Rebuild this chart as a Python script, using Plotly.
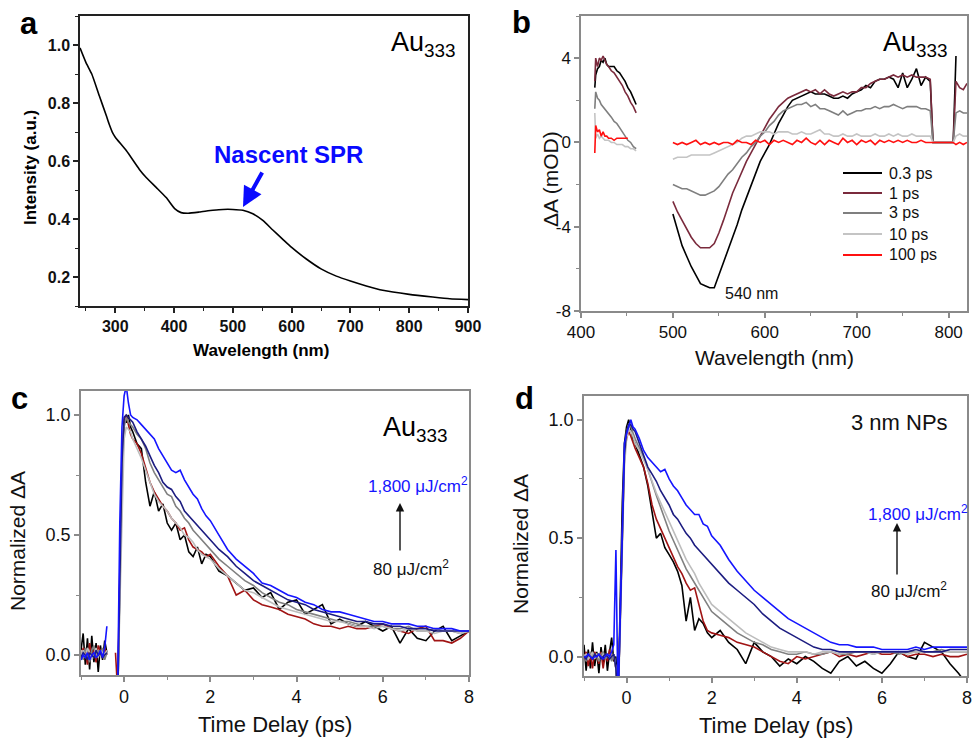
import plotly.graph_objects as go

W, H = 972, 738
FONT = "Liberation Sans, Arial, sans-serif"

# ---------------- panel a : absorption spectrum ----------------
A_WL = [240, 250, 260, 273, 285, 290, 296, 300, 319, 341, 353, 370, 387, 401, 412, 424,
        443, 466, 483, 500, 517, 534, 551, 568, 585, 600, 625, 650, 676, 700, 727,
        755, 800, 840, 869, 900]
A_INT = [0.99, 0.94, 0.90, 0.824, 0.755, 0.725, 0.695, 0.682, 0.635, 0.571, 0.542, 0.508, 0.473,
         0.436, 0.422, 0.42, 0.424, 0.43, 0.433, 0.433, 0.43, 0.418, 0.395, 0.362,
         0.33, 0.302, 0.262, 0.228, 0.203, 0.186, 0.169, 0.154, 0.14, 0.131, 0.125, 0.122]

# ---------------- panel b : transient spectra ----------------
B_WL_S1 = [415, 416, 418, 420, 422, 424, 426, 428, 430, 433, 436, 439, 442, 445, 448,
           451, 454, 457, 460]
B_WL_S2 = [500, 505, 510, 515, 520, 525, 530, 535, 540, 545, 550, 555, 560, 565, 570,
           575, 580, 585, 590, 595, 600, 605, 610, 615, 620, 625, 630, 635, 640, 645,
           650, 655, 660, 665, 670, 675, 680, 685, 690, 695, 700, 705, 710, 715, 720,
           725, 730, 735, 740, 745, 750, 755, 760, 765, 770, 775, 780,
           783, 790, 800, 805, 808, 812, 816, 820]
B_NAMES = ["0.3 ps", "1 ps", "3 ps", "10 ps", "100 ps"]

B_03_S1 = [2.6, 3.2, 3.5, 3.6, 3.9, 3.8, 4.0, 3.7, 3.6, 3.6, 3.6, 3.4, 3.3, 3.1, 2.9, 2.6, 2.4, 2.1, 1.8]
B_03_S2 = [-3.4, -4.1, -4.9, -5.4, -5.9, -6.3, -6.7, -6.8, -6.9, -6.9, -6.3, -5.8, -5.2, -4.5, -3.9,
           -3.2, -2.6, -2.0, -1.4, -0.9, -0.5, -0.1, 0.4, 0.9, 1.3, 1.7, 2.0, 2.1, 2.2, 2.3,
           2.4, 2.3, 2.3, 2.3, 2.2, 2.1, 2.1, 2.2, 2.1, 2.3, 2.4, 2.5, 2.7, 2.6, 2.9,
           3.0, 3.0, 3.1, 3.0, 2.6, 3.3, 2.6, 3.0, 3.5, 2.7, 3.1, 2.9,
           0.0, 0.0, 0.0, 0.0, 4.1, None, None, None]
B_1_S1 = [2.9, 4.0, 3.6, 4.0, 3.9, 4.1, 3.9, 3.7, 3.6, 3.4, 3.3, 3.1, 2.9, 2.7, 2.4, 2.2, 1.9, 1.7, 1.4]
B_1_S2 = [-2.8, -3.3, -3.7, -4.1, -4.5, -4.8, -5.0, -5.0, -5.0, -4.8, -4.3, -3.7, -3.0, -2.4, -1.9,
          -1.4, -0.9, -0.5, -0.1, 0.3, 0.7, 1.1, 1.4, 1.7, 1.9, 2.1, 2.2, 2.3, 2.4, 2.5,
          2.4, 2.5, 2.3, 2.5, 2.3, 2.2, 2.3, 2.4, 2.3, 2.4, 2.4, 2.6, 2.6, 2.8, 2.9,
          3.0, 3.0, 3.1, 3.2, 3.1, 3.2, 3.1, 3.2, 3.1, 3.1, 3.1, 3.0,
          0.0, 0.0, 0.0, 0.0, 2.9, 2.6, 2.5, 2.8]
B_3_S1 = [1.6, 2.4, 2.1, 2.0, 1.8, 1.7, 1.6, 1.5, 1.4, 1.2, 1.0, 0.9, 0.7, 0.5, 0.3, 0.1, 0.0, -0.2, -0.3]
B_3_S2 = [-2.0, -2.1, -2.2, -2.2, -2.3, -2.4, -2.5, -2.5, -2.4, -2.3, -2.1, -1.8, -1.5, -1.3, -1.0,
          -0.7, -0.5, -0.2, 0.0, 0.3, 0.5, 0.8, 1.0, 1.3, 1.5, 1.6, 1.7, 1.8, 1.8, 1.9,
          1.7, 1.8, 1.6, 1.6, 1.5, 1.4, 1.3, 1.5, 1.3, 1.4, 1.5, 1.5, 1.6, 1.6, 1.7,
          1.6, 1.7, 1.7, 1.8, 1.7, 1.6, 1.7, 1.7, 1.7, 1.6, 1.6, 1.5,
          0.0, 0.0, 0.0, 0.0, 1.4, 1.5, 1.4, 1.4]
B_10_S1 = [1.4, 0.2, 0.4, 0.2, 0.3, 0.2, 0.1, 0.1, 0.1, 0.0, 0.0, -0.1, -0.1, -0.1, -0.2, -0.2, -0.3, -0.3, -0.4]
B_10_S2 = [-0.8, -0.7, -0.7, -0.7, -0.6, -0.6, -0.6, -0.6, -0.6, -0.5, -0.4, -0.3, -0.2, -0.1, 0.0,
           0.2, 0.3, 0.3, 0.4, 0.5, 0.5, 0.5, 0.4, 0.5, 0.5, 0.5, 0.4, 0.4, 0.5, 0.4,
           0.4, 0.5, 0.6, 0.4, 0.4, 0.3, 0.3, 0.4, 0.3, 0.3, 0.4, 0.3, 0.3, 0.3, 0.4,
           0.3, 0.3, 0.4, 0.3, 0.4, 0.3, 0.3, 0.4, 0.3, 0.3, 0.3, 0.3,
           0.0, 0.0, 0.0, 0.0, 0.3, 0.4, 0.3, 0.3]
B_100_S1 = [-0.5, 0.8, 0.5, 0.6, 0.3, 0.5, 0.3, 0.3, 0.2, 0.2, 0.1, 0.2, 0.2, 0.2, 0.2, 0.2, None, None, None]
B_100_S2 = [0.0, -0.1, 0.0, -0.1, 0.0, 0.1, -0.1, 0.0, -0.1, 0.0, -0.1, 0.0, 0.0, -0.1, 0.1,
            0.0, 0.0, -0.1, 0.1, 0.0, 0.1, -0.1, 0.1, 0.0, 0.1, 0.0, -0.1, 0.1, 0.0, 0.2,
            0.0, -0.1, 0.1, -0.1, 0.1, 0.0, -0.1, 0.2, 0.0, 0.1, -0.1, 0.1, 0.0, 0.1, -0.1,
            0.1, 0.0, 0.1, 0.0, 0.1, 0.0, 0.1, 0.0, 0.0, 0.1, 0.0, 0.0,
            0.0, 0.0, 0.0, 0.0, -0.1, 0.0, -0.1, 0.0]

# ---------------- panel c : Au333 kinetics ----------------
C_T_PRE = [-1.0, -0.95, -0.9, -0.85, -0.8, -0.75, -0.7, -0.65, -0.6, -0.55, -0.5, -0.45, -0.4]
C_T_MAIN = [-0.2, -0.15, -0.1, -0.05, 0.0, 0.05, 0.1, 0.15,
            0.2, 0.3, 0.4, 0.5, 0.6, 0.7, 0.8, 0.9, 1.0, 1.1, 1.2, 1.3, 1.4, 1.5, 1.6, 1.7, 1.8, 1.9, 2.0,
            2.2, 2.4, 2.6, 2.8, 3.0, 3.2, 3.4, 3.6, 3.8, 4.0, 4.2, 4.4, 4.6, 4.8, 5.0,
            5.2, 5.4, 5.6, 5.8, 6.0, 6.2, 6.4, 6.6, 6.8, 7.0, 7.2, 7.4, 7.6, 7.8, 8.0]

C_BLACK_PRE = [0.02, 0.09, -0.04, 0.07, -0.06, 0.08, -0.03, 0.05, -0.07, 0.04, -0.02, 0.06, 0.01]
C_BLACK = [-0.2, -0.2, 0.3, 0.75, 0.97, 0.97, 1.0, 0.95,
           0.93, 0.88, 0.86, 0.72, 0.62, 0.68, 0.6, 0.63, 0.55, 0.52, 0.55, 0.48, 0.5, 0.43, 0.41, 0.45, 0.38, 0.42, 0.41,
           0.35, 0.33, 0.3, 0.27, 0.28, 0.24, 0.26, 0.19, 0.22, 0.23, 0.17, 0.19, 0.21, 0.13, 0.15,
           0.13, 0.12, 0.14, 0.12, 0.1, 0.12, 0.05, 0.11, 0.07, 0.06, 0.1, 0.12, 0.06, 0.08, 0.1]
C_RED_PRE = [-0.02, 0.03, 0.01, -0.04, 0.05, 0.0, 0.02, -0.03, 0.04, 0.01, -0.01, 0.03, 0.0]
C_RED = [0.01, -0.15, 0.35, 0.8, 0.98, 1.0, 0.96, 0.92,
         0.9, 0.88, 0.84, 0.78, 0.72, 0.68, 0.65, 0.62, 0.6, 0.57, 0.55, 0.52, 0.53, 0.48, 0.45, 0.44, 0.43, 0.41, 0.42,
         0.37, 0.33, 0.25, 0.27, 0.23, 0.21, 0.2, 0.19, 0.17, 0.16, 0.15, 0.13, 0.12, 0.12, 0.11,
         0.12, 0.11, 0.11, 0.12, 0.13, 0.11, 0.1, 0.09, 0.11, 0.12, 0.06, 0.06, 0.05, 0.07, 0.1]
C_GRAY_PRE = [0.01, -0.02, 0.03, 0.0, -0.03, 0.02, 0.04, -0.01, 0.02, 0.0, 0.03, -0.02, 0.01]
C_GRAY = [-0.2, -0.2, 0.25, 0.7, 0.95, 0.99, 0.97, 0.96,
          0.95, 0.92, 0.9, 0.86, 0.8, 0.76, 0.73, 0.7, 0.67, 0.66, 0.62, 0.6, 0.57, 0.55, 0.52, 0.5, 0.48, 0.46, 0.44,
          0.4, 0.37, 0.34, 0.31, 0.29, 0.26, 0.24, 0.22, 0.21, 0.19, 0.18, 0.17, 0.16, 0.15, 0.14,
          0.14, 0.13, 0.12, 0.12, 0.12, 0.11, 0.11, 0.12, 0.1, 0.1, 0.11, 0.1, 0.1, 0.09, 0.1]
C_LGRAY_PRE = [0.0, 0.02, -0.01, 0.03, 0.01, -0.02, 0.0, 0.03, -0.01, 0.02, 0.01, 0.0, 0.02]
C_LGRAY = [-0.2, -0.2, 0.2, 0.6, 0.9, 0.95, 0.94, 0.93,
           0.9, 0.86, 0.82, 0.77, 0.72, 0.67, 0.64, 0.62, 0.6, 0.57, 0.55, 0.53, 0.5, 0.49, 0.47, 0.44, 0.42, 0.41, 0.4,
           0.36, 0.33, 0.3, 0.27, 0.26, 0.24, 0.22, 0.2, 0.19, 0.18, 0.17, 0.16, 0.15, 0.14, 0.14,
           0.13, 0.12, 0.12, 0.11, 0.12, 0.11, 0.1, 0.11, 0.1, 0.1, 0.09, 0.1, 0.1, 0.09, 0.1]
C_NAVY_PRE = [-0.01, 0.01, 0.0, -0.02, 0.01, 0.0, -0.01, 0.02, 0.0, 0.01, -0.01, 0.0, 0.01]
C_NAVY = [-0.2, -0.2, 0.3, 0.8, 0.99, 1.0, 0.99, 0.98,
          0.97, 0.93, 0.9, 0.87, 0.83, 0.79, 0.76, 0.72, 0.7, 0.69, 0.66, 0.64, 0.6, 0.58, 0.56, 0.54, 0.52, 0.5, 0.48,
          0.44, 0.41, 0.37, 0.34, 0.31, 0.29, 0.27, 0.25, 0.23, 0.22, 0.21, 0.19, 0.18, 0.17, 0.16,
          0.15, 0.14, 0.14, 0.13, 0.13, 0.12, 0.12, 0.11, 0.11, 0.11, 0.1, 0.1, 0.1, 0.1, 0.1]
C_BLUE_PRE = [-0.02, 0.0, -0.01, 0.01, -0.02, 0.0, 0.01, -0.01, 0.0, 0.02, -0.01, 0.03, 0.12]
C_BLUE = [-0.3, -0.15, 0.55, 0.95, 1.08, 1.12, 1.05, 1.0,
          0.99, 0.98, 0.96, 0.94, 0.92, 0.9, 0.86, 0.83, 0.8, 0.77, 0.76, 0.77, 0.73, 0.7, 0.67, 0.65, 0.61, 0.58, 0.56,
          0.5, 0.44, 0.4, 0.37, 0.34, 0.3, 0.29, 0.27, 0.25, 0.24, 0.22, 0.21, 0.19, 0.18, 0.18,
          0.17, 0.16, 0.15, 0.14, 0.14, 0.13, 0.13, 0.13, 0.12, 0.12, 0.11, 0.11, 0.11, 0.1, 0.1]

# ---------------- panel d : 3 nm NP kinetics ----------------
D_T = [-1.0, -0.95, -0.9, -0.85, -0.8, -0.75, -0.7, -0.65, -0.6, -0.55, -0.5, -0.45, -0.4, -0.35, -0.3,
       -0.25, -0.2, -0.15, -0.1, -0.05, 0.0, 0.05, 0.1, 0.15,
       0.2, 0.3, 0.4, 0.5, 0.6, 0.7, 0.8, 0.9, 1.0, 1.1, 1.2, 1.3, 1.4, 1.5, 1.6, 1.7, 1.8, 1.9, 2.0,
       2.2, 2.4, 2.6, 2.8, 3.0, 3.2, 3.4, 3.6, 3.8, 4.0, 4.2, 4.4, 4.6, 4.8, 5.0,
       5.2, 5.4, 5.6, 5.8, 6.0, 6.2, 6.4, 6.6, 6.8, 7.0, 7.2, 7.4, 7.6, 7.8, 8.0]
D_BLACK = [0.05, -0.06, 0.03, -0.05, 0.06, -0.04, 0.02, -0.07, 0.04, -0.03, 0.05, -0.06, 0.02, 0.08, -0.02,
           0.0, -0.2, 0.2, 0.65, 0.9, 0.97, 1.0, 0.96, 0.92,
           0.9, 0.85, 0.8, 0.72, 0.6, 0.5, 0.52, 0.46, 0.43, 0.4, 0.36, 0.3, 0.15, 0.25, 0.11, 0.16, 0.14, 0.1, 0.08,
           0.11, 0.06, 0.03, -0.03, 0.06, 0.02, 0.0, -0.04, -0.01, -0.03, 0.0, -0.02, -0.05, -0.07, -0.02,
           0.0, -0.04, -0.02, -0.05, -0.07, -0.03, 0.02, 0.0, -0.01, 0.06, 0.04, 0.02, -0.03, -0.07, -0.12]
D_RED = [-0.01, 0.02, -0.04, 0.01, -0.05, 0.02, 0.0, -0.03, 0.02, -0.05, 0.01, -0.02, 0.03, -0.01, 0.0,
         -0.05, -0.2, 0.15, 0.6, 0.85, 0.92, 0.95, 0.93, 0.9,
         0.88, 0.84, 0.8, 0.73, 0.64, 0.58, 0.54, 0.5, 0.46, 0.42, 0.38, 0.35, 0.31, 0.28, 0.29, 0.22, 0.15, 0.11, 0.1,
         0.09, 0.08, 0.06, 0.05, 0.04, 0.02, 0.0, -0.02, -0.03, 0.0, -0.01, 0.0, 0.01, 0.02, 0.0,
         0.01, 0.0, 0.01, 0.02, 0.01, 0.01, 0.02, 0.0, 0.01, 0.01, 0.0, 0.01, 0.0, 0.0, 0.01]
D_GRAY = [0.01, -0.02, 0.0, 0.02, -0.01, 0.01, 0.0, -0.02, 0.01, 0.02, -0.01, 0.0, 0.01, -0.02, 0.01,
          -0.05, -0.2, 0.15, 0.55, 0.85, 0.95, 0.98, 0.97, 0.94,
          0.92, 0.88, 0.84, 0.79, 0.73, 0.68, 0.63, 0.58, 0.53, 0.49, 0.45, 0.41, 0.37, 0.34, 0.31, 0.28, 0.25, 0.22, 0.19,
          0.16, 0.13, 0.1, 0.08, 0.06, 0.05, 0.03, 0.02, 0.01, 0.01, 0.02, 0.01, 0.01, 0.02, 0.01,
          0.01, 0.02, 0.02, 0.01, 0.02, 0.02, 0.01, 0.02, 0.02, 0.02, 0.02, 0.03, 0.02, 0.02, 0.02]
D_LGRAY = [0.0, 0.01, -0.01, 0.0, 0.02, -0.01, 0.01, 0.0, -0.01, 0.01, 0.0, 0.01, -0.01, 0.0, 0.01,
           -0.05, -0.2, 0.1, 0.5, 0.8, 0.92, 0.96, 0.95, 0.93,
           0.9, 0.87, 0.83, 0.79, 0.74, 0.69, 0.65, 0.61, 0.57, 0.53, 0.49, 0.45, 0.41, 0.38, 0.35, 0.31, 0.28, 0.25, 0.22,
           0.19, 0.16, 0.13, 0.1, 0.08, 0.06, 0.04, 0.03, 0.02, 0.02, 0.02, 0.01, 0.02, 0.02, 0.01,
           0.02, 0.02, 0.02, 0.01, 0.02, 0.02, 0.02, 0.01, 0.02, 0.02, 0.02, 0.02, 0.02, 0.02, 0.02]
D_NAVY = [0.0, -0.01, 0.01, 0.0, -0.01, 0.01, 0.0, 0.01, -0.01, 0.0, 0.01, 0.0, -0.01, 0.0, 0.01,
          -0.05, -0.2, 0.15, 0.55, 0.85, 0.95, 0.98, 0.98, 0.96,
          0.95, 0.9, 0.85, 0.8, 0.77, 0.74, 0.7, 0.67, 0.64, 0.6, 0.58, 0.55, 0.52, 0.5, 0.47, 0.45, 0.43, 0.41, 0.39,
          0.35, 0.31, 0.28, 0.25, 0.22, 0.18, 0.15, 0.12, 0.1, 0.08, 0.06, 0.04, 0.03, 0.03, 0.02,
          0.02, 0.02, 0.02, 0.02, 0.02, 0.02, 0.02, 0.02, 0.03, 0.02, 0.02, 0.02, 0.03, 0.03, 0.03]
D_BLUE = [0.0, 0.0, 0.01, 0.0, -0.01, 0.0, 0.0, 0.01, 0.0, -0.01, 0.0, 0.01, 0.0, 0.02, 0.05,
          0.45, -0.2, 0.15, 0.6, 0.9, 0.94, 0.97, 1.0, 0.97,
          0.96, 0.92, 0.87, 0.84, 0.82, 0.8, 0.78, 0.79, 0.75, 0.72, 0.7, 0.67, 0.64, 0.62, 0.6, 0.6, 0.56, 0.55, 0.51,
          0.47, 0.41, 0.36, 0.32, 0.28, 0.25, 0.22, 0.19, 0.16, 0.14, 0.12, 0.1, 0.08, 0.06, 0.05,
          0.05, 0.04, 0.04, 0.04, 0.03, 0.03, 0.03, 0.03, 0.04, 0.03, 0.04, 0.04, 0.04, 0.04, 0.04]

B_COLORS = ["#000000", "#7a2a3c", "#7f7f7f", "#c4c4c4", "#ff1010"]
K_COLORS = ["#000000", "#a01414", "#808080", "#bdbdbd", "#1c1c80", "#1515ff"]

# ---------------- figure ----------------
fig = go.Figure()

fig.add_trace(go.Scatter(x=A_WL, y=A_INT, mode="lines",
                         line=dict(color="black", width=1.6, shape="spline", smoothing=0.5),
                         xaxis="x", yaxis="y", showlegend=False))

b_s1 = [B_03_S1, B_1_S1, B_3_S1, B_10_S1, B_100_S1]
b_s2 = [B_03_S2, B_1_S2, B_3_S2, B_10_S2, B_100_S2]
for name, s1, s2, col in zip(B_NAMES, b_s1, b_s2, B_COLORS):
    fig.add_trace(go.Scatter(x=B_WL_S1 + [None] + B_WL_S2, y=s1 + [None] + s2, mode="lines",
                             name=name, line=dict(color=col, width=1.6), connectgaps=False,
                             xaxis="x2", yaxis="y2", showlegend=False))

c_pre = [C_BLACK_PRE, C_RED_PRE, C_GRAY_PRE, C_LGRAY_PRE, C_NAVY_PRE, C_BLUE_PRE]
c_main = [C_BLACK, C_RED, C_GRAY, C_LGRAY, C_NAVY, C_BLUE]
for pre, main, col in zip(c_pre, c_main, K_COLORS):
    fig.add_trace(go.Scatter(x=C_T_PRE + [None] + C_T_MAIN, y=pre + [None] + main, mode="lines",
                             line=dict(color=col, width=1.6), connectgaps=False,
                             xaxis="x3", yaxis="y3", showlegend=False))

for ser, col in zip([D_BLACK, D_RED, D_GRAY, D_LGRAY, D_NAVY, D_BLUE], K_COLORS):
    fig.add_trace(go.Scatter(x=D_T, y=ser, mode="lines", line=dict(color=col, width=1.6),
                             xaxis="x4", yaxis="y4", showlegend=False))


def px(x):
    return x / W


def py(y):
    return 1 - y / H


def axis(domain, rng, anchor, dtick, minor, color, size, bold=False, tickformat=None, **kw):
    d = dict(domain=domain, range=rng, anchor=anchor, showline=True, linecolor=color, linewidth=1.5,
             mirror=True, ticks="outside", ticklen=5, tickwidth=1.5, tickcolor=color,
             tick0=0, dtick=dtick, showgrid=False, zeroline=False, automargin=False,
             ticklabeloverflow="allow",
             minor=dict(ticks="outside", ticklen=3, tickwidth=1.2, tickcolor=color, dtick=minor, tick0=0,
                        showgrid=False),
             tickfont=dict(family=FONT, size=size, color="#111111", weight=700 if bold else 400))
    if tickformat:
        d["tickformat"] = tickformat
    d.update(kw)
    return d


GRAY_AX = "#8a8a8a"
B_YTICKS = [-8, -4, 0, 4]
B_YTICKTEXT = ["-8", "-4", "0", "4"]

fig.update_layout(
    width=W, height=H, margin=dict(l=0, r=0, t=0, b=0, autoexpand=False),
    paper_bgcolor="white", plot_bgcolor="white", showlegend=False,
    xaxis=axis([px(80), px(468)], [240, 900], "y", 100, 50, "#222222", 16, bold=True),
    yaxis=axis([py(306), py(16)], [0.1, 1.1], "x", 0.2, 0.1, "#222222", 16, bold=True, tickformat=".1f"),
    xaxis2=axis([px(581), px(967)], [400, 820], "y2", 100, 50, GRAY_AX, 17),
    yaxis2=axis([py(311), py(16)], [-8, 6], "x2", 4, 2, GRAY_AX, 17,
                tickmode="array", tickvals=B_YTICKS, ticktext=B_YTICKTEXT),
    xaxis3=axis([px(81), px(469)], [-1, 8], "y3", 2, 1, GRAY_AX, 18),
    yaxis3=axis([py(675), py(391)], [-0.083, 1.1], "x3", 0.5, 0.25, GRAY_AX, 18, tickformat=".1f"),
    xaxis4=axis([px(584), px(967)], [-1, 8], "y4", 2, 1, GRAY_AX, 18),
    yaxis4=axis([py(676), py(396)], [-0.082, 1.1], "x4", 0.5, 0.25, GRAY_AX, 18, tickformat=".1f"),
)
fig.layout.yaxis2.minor.tickmode = "linear"


def txt(text, x, y, size, color="#111111", bold=False, xanchor="center", yanchor="middle", angle=0):
    return dict(text=text, x=px(x), y=py(y), xref="paper", yref="paper", showarrow=False,
                xanchor=xanchor, yanchor=yanchor, textangle=angle,
                font=dict(family=FONT, size=size, color=color, weight=700 if bold else 400))


MU = "\u03bcJ/cm<sup>2</sup>"
ann = [
    # panel labels
    txt("a", 29, 24, 31, "#000", bold=True),
    txt("b", 521, 22, 31, "#000", bold=True),
    txt("c", 19, 398, 31, "#000", bold=True),
    txt("d", 524, 398, 31, "#000", bold=True),
    # axis titles
    txt("Wavelength (nm)", 261, 350, 17, "#000", bold=True),
    txt("Intensity (a.u.)", 30, 168, 17, "#000", bold=True, angle=-90),
    txt("Wavelength (nm)", 774, 357, 21),
    txt("\u0394A (mOD)", 550, 179, 21, angle=-90),
    txt("Time Delay (ps)", 275, 724, 22),
    txt("Normalized \u0394A", 17, 541, 21, angle=-90),
    txt("Time Delay (ps)", 776, 725, 22),
    txt("Normalized \u0394A", 520, 544, 21, angle=-90),
    # in-plot labels
    txt("Au<sub>333</sub>", 389, 44, 27, "#000", xanchor="left"),
    txt("Nascent SPR", 288, 155, 24, "#0a0aff", bold=True),
    txt("Au<sub>333</sub>", 881, 44, 27, "#000", xanchor="left"),
    txt("540 nm", 723, 293, 16, xanchor="left"),
    txt("Au<sub>333</sub>", 381, 429, 27, "#000", xanchor="left"),
    txt("1,800 " + MU, 366, 485, 17, "#1515ff", xanchor="left"),
    txt("80 " + MU, 371, 568, 17, xanchor="left"),
    txt("3 nm NPs", 849, 422, 22, xanchor="left"),
    txt("1,800 " + MU, 866, 513, 17, "#1515ff", xanchor="left"),
    txt("80 " + MU, 869, 590, 17, xanchor="left"),
    # arrows
    dict(x=px(243), y=py(207), xref="paper", yref="paper", ax=20, ay=-36, axref="pixel", ayref="pixel",
         showarrow=True, arrowhead=2, arrowsize=1, arrowwidth=4, arrowcolor="#0a0aff", text=""),
    dict(x=px(400), y=py(503), xref="paper", yref="paper", ax=0, ay=49, showarrow=True,
         arrowhead=2, arrowsize=1.2, arrowwidth=1.4, arrowcolor="#111", text=""),
    dict(x=px(897), y=py(523), xref="paper", yref="paper", ax=0, ay=53, showarrow=True,
         arrowhead=2, arrowsize=1.2, arrowwidth=1.4, arrowcolor="#111", text=""),
]

# legend of panel b (key lines drawn as shapes, labels as text)
LEG_Y = [173, 193, 213, 234, 255]
shapes = []
for name, col, yy in zip(B_NAMES, B_COLORS, LEG_Y):
    shapes.append(dict(type="line", xref="paper", yref="paper", x0=px(843), x1=px(882),
                       y0=py(yy), y1=py(yy), line=dict(color=col, width=1.8)))
    ann.append(txt(name, 887, yy, 16, xanchor="left"))

fig.update_layout(annotations=ann, shapes=shapes)

fig.write_html("out.html", config={"displayModeBar": False},
               post_script="document.body.style.margin='0px';document.body.style.overflow='hidden';")
